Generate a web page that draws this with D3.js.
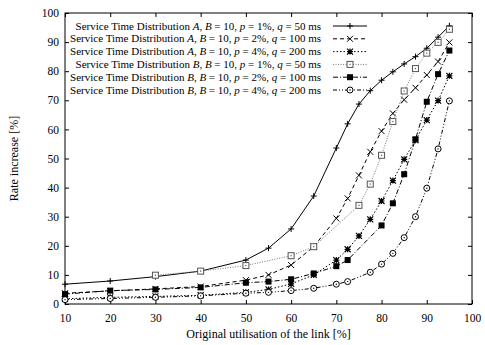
<!DOCTYPE html>
<html>
<head>
<meta charset="utf-8">
<script src="https://cdn.jsdelivr.net/npm/d3@7/dist/d3.min.js"></script>
<style>
  html, body { margin: 0; padding: 0; background: #fff; }
  svg text { font-family: "Liberation Serif", "DejaVu Serif", serif; fill: #000; }
</style>
</head>
<body>
<svg id="chart" width="485" height="345"></svg>
<script>
// Utilisation points (percent) for the A runs and the B runs
const xA = [10, 20, 30, 40, 50, 55, 60, 65, 70, 72.5, 75, 77.5, 80, 82.5, 85, 87.5, 90, 92.5, 95];
const xB1 = [30, 40, 50, 60, 65, 75, 77.5, 80, 82.5, 85, 87.5, 90, 92.5, 95];
const xB2 = [10, 20, 30, 40, 50, 55, 60, 65, 70, 72.5, 80, 82.5, 85, 87.5, 90, 92.5, 95];
const xB3 = [10, 20, 30, 40, 50, 55, 60, 65, 70, 72.5, 77.5, 80, 82.5, 85, 87.5, 90, 92.5, 95];

// Rate increase (percent)
const rateA1 = [6.8, 7.9, 9.4, 11.3, 15.1, 19.2, 25.8, 37.1, 53.6, 61.9, 68.7, 73.3, 76.9, 79.8, 82.5, 85.0, 87.9, 91.7, 95.6];
const rateA2 = [3.7, 4.5, 5.2, 6.0, 8.2, 10.0, 13.4, 19.7, 29.4, 36.3, 44.2, 52.3, 59.4, 65.5, 70.2, 74.3, 78.7, 83.3, 89.9];
const rateA3 = [1.8, 2.3, 2.6, 3.0, 4.0, 5.0, 6.9, 10.0, 15.1, 18.8, 23.4, 29.1, 35.4, 42.4, 49.7, 56.3, 63.2, 69.9, 78.4];
const rateB1 = [9.9, 11.3, 13.2, 16.6, 19.7, 33.9, 41.2, 51.1, 62.7, 73.2, 80.9, 86.2, 89.9, 94.4];
const rateB2 = [3.4, 4.6, 5.0, 5.7, 7.3, 7.7, 8.5, 10.5, 13.0, 15.1, 27.0, 34.6, 44.6, 56.6, 69.5, 79.0, 87.1];
const rateB3 = [1.5, 1.9, 2.3, 2.8, 3.7, 4.0, 4.6, 5.4, 6.8, 7.7, 10.9, 13.7, 17.4, 22.8, 30.0, 39.8, 53.3, 69.8];

const legendLabels = [
  ["A", "1%", "50"], ["A", "2%", "100"], ["A", "4%", "200"],
  ["B", "1%", "50"], ["B", "2%", "100"], ["B", "4%", "200"]
];

const xTicks = [10, 20, 30, 40, 50, 60, 70, 80, 90, 100];
const yTicks = [0, 10, 20, 30, 40, 50, 60, 70, 80, 90, 100];

const series = [
  { xs: xA,  ys: rateA1, dash: null,            stroke: "#000", mark: "plus" },
  { xs: xA,  ys: rateA2, dash: "4,3",           stroke: "#000", mark: "cross" },
  { xs: xA,  ys: rateA3, dash: "1.5,2",         stroke: "#000", mark: "star" },
  { xs: xB1, ys: rateB1, dash: "1,1.5",         stroke: "#777", mark: "openSquare" },
  { xs: xB2, ys: rateB2, dash: "5,2,1,2",       stroke: "#000", mark: "fillSquare" },
  { xs: xB3, ys: rateB3, dash: "4,2,1,2,1,2",   stroke: "#000", mark: "openCircle" }
];

const svg = d3.select("#chart");
const margin = { left: 65, right: 13, top: 13, bottom: 41 };
const W = 485, H = 345;
const x = d3.scaleLinear().domain([10, 100]).range([margin.left, W - margin.right]);
const y = d3.scaleLinear().domain([0, 100]).range([H - margin.bottom, margin.top]);

const tickLen = 4;

// Axes with inward ticks on all four sides
const gB = svg.append("g").attr("transform", `translate(0,${y(0)})`)
  .call(d3.axisBottom(x).tickValues(xTicks).tickSize(-tickLen).tickPadding(10).tickFormat(d3.format("d")));
const gT = svg.append("g").attr("transform", `translate(0,${y(100)})`)
  .call(d3.axisTop(x).tickValues(xTicks).tickSize(-tickLen).tickFormat(""));
const gL = svg.append("g").attr("transform", `translate(${x(10)},0)`)
  .call(d3.axisLeft(y).tickValues(yTicks).tickSize(-tickLen).tickPadding(6).tickFormat(d3.format("d")));
const gR = svg.append("g").attr("transform", `translate(${x(100)},0)`)
  .call(d3.axisRight(y).tickValues(yTicks).tickSize(-tickLen).tickFormat(""));

[gB, gT, gL, gR].forEach(g => {
  g.select(".domain").remove();
  g.selectAll(".tick line").attr("stroke", "#000").attr("stroke-width", 1);
  g.selectAll("text").attr("font-size", 11.5).attr("font-family", "Liberation Serif");
});

// Frame
svg.append("rect")
  .attr("x", x(10)).attr("y", y(100))
  .attr("width", x(100) - x(10)).attr("height", y(0) - y(100))
  .attr("fill", "none").attr("stroke", "#000").attr("stroke-width", 1);

// Axis titles
svg.append("text")
  .attr("x", (x(10) + x(100)) / 2).attr("y", 338)
  .attr("text-anchor", "middle").attr("font-size", 12)
  .text("Original utilisation of the link [%]");
svg.append("text")
  .attr("transform", `translate(18,${(y(0) + y(100)) / 2}) rotate(-90)`)
  .attr("text-anchor", "middle").attr("font-size", 12)
  .text("Rate increase [%]");

function drawMarker(g, kind, cx, cy, color) {
  const s = 3;
  if (kind === "plus") {
    g.append("path").attr("d", `M${cx - s},${cy}H${cx + s}M${cx},${cy - s}V${cy + s}`)
      .attr("stroke", color).attr("stroke-width", 1);
  } else if (kind === "cross") {
    g.append("path").attr("d", `M${cx - s},${cy - s}L${cx + s},${cy + s}M${cx - s},${cy + s}L${cx + s},${cy - s}`)
      .attr("stroke", color).attr("stroke-width", 1);
  } else if (kind === "star") {
    g.append("path").attr("d",
      `M${cx - s},${cy}H${cx + s}M${cx},${cy - s}V${cy + s}` +
      `M${cx - s},${cy - s}L${cx + s},${cy + s}M${cx - s},${cy + s}L${cx + s},${cy - s}`)
      .attr("stroke", color).attr("stroke-width", 1.2);
  } else if (kind === "openSquare") {
    g.append("rect").attr("x", cx - s).attr("y", cy - s).attr("width", 2 * s).attr("height", 2 * s)
      .attr("fill", "#fff").attr("stroke", "#555").attr("stroke-width", 1);
    g.append("rect").attr("x", cx - 0.6).attr("y", cy - 0.6).attr("width", 1.2).attr("height", 1.2).attr("fill", "#555");
  } else if (kind === "fillSquare") {
    g.append("rect").attr("x", cx - s).attr("y", cy - s).attr("width", 2 * s).attr("height", 2 * s)
      .attr("fill", color);
  } else if (kind === "openCircle") {
    g.append("circle").attr("cx", cx).attr("cy", cy).attr("r", s)
      .attr("fill", "#fff").attr("stroke", color).attr("stroke-width", 1);
    g.append("circle").attr("cx", cx).attr("cy", cy).attr("r", 0.7).attr("fill", color);
  }
}

const line = d3.line().x(d => x(d[0])).y(d => y(d[1]));
const plot = svg.append("g");

series.forEach(sr => {
  const pts = sr.xs.map((v, i) => [v, sr.ys[i]]);
  plot.append("path").datum(pts)
    .attr("d", line).attr("fill", "none")
    .attr("stroke", sr.stroke).attr("stroke-width", 1)
    .attr("stroke-dasharray", sr.dash);
  const mg = plot.append("g");
  pts.forEach(p => drawMarker(mg, sr.mark, x(p[0]), y(p[1]), sr.stroke));
});

// Legend
const lg = svg.append("g");
const textRight = 321, sampleL = 333, sampleR = 367, row0 = 26, rowStep = 12.8;
series.forEach((sr, i) => {
  const cy = row0 + i * rowStep;
  const [dist, p, q] = legendLabels[i];
  const t = lg.append("text").attr("x", textRight).attr("y", cy).attr("dy", "0.33em")
    .attr("text-anchor", "end").attr("font-size", 11);
  t.append("tspan").text("Service Time Distribution ");
  t.append("tspan").attr("font-style", "italic").text(dist);
  t.append("tspan").text(", ");
  t.append("tspan").attr("font-style", "italic").text("B");
  t.append("tspan").text(" = 10, ");
  t.append("tspan").attr("font-style", "italic").text("p");
  t.append("tspan").text(` = ${p}, `);
  t.append("tspan").attr("font-style", "italic").text("q");
  t.append("tspan").text(` = ${q} ms`);
  lg.append("line").attr("x1", sampleL).attr("x2", sampleR).attr("y1", cy).attr("y2", cy)
    .attr("stroke", sr.stroke).attr("stroke-width", 1).attr("stroke-dasharray", sr.dash);
  drawMarker(lg, sr.mark, (sampleL + sampleR) / 2, cy, sr.stroke);
});
</script>
</body>
</html>
